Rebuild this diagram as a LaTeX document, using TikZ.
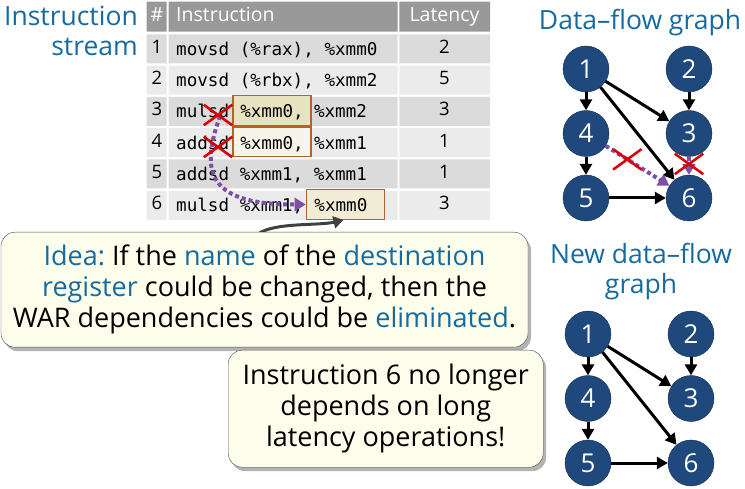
\documentclass[tikz,border=0pt]{standalone}
\usepackage{fontspec}
\setmainfont{Open Sans}
\setmonofont{DejaVu Sans Mono}
\usetikzlibrary{positioning,arrows.meta,shadows,shapes.misc}
\frenchspacing

\definecolor{titleblue}{RGB}{21,107,160}
\definecolor{nodeblue}{RGB}{31,73,125}
\definecolor{warpurple}{RGB}{125,80,165}
\definecolor{regline}{RGB}{181,98,42}
\definecolor{regfill}{RGB}{233,226,192}
\definecolor{calloutfill}{RGB}{253,253,236}
\definecolor{headgray}{RGB}{153,153,153}
\definecolor{rowdark}{RGB}{219,219,219}
\definecolor{rowlight}{RGB}{235,235,235}

\tikzset{
  title/.style = {text=titleblue, inner sep=0pt, font=\fontsize{26.5}{30}\selectfont},
  headtext/.style = {text=white, inner sep=0pt, font=\fontsize{19.5}{20}\selectfont},
  celltext/.style = {anchor=base, inner sep=0pt, font=\fontsize{18.5}{20}\selectfont},
  code/.style = {anchor=base west, inner sep=0pt, font=\ttfamily\fontsize{17.6}{20}\selectfont},
  regbox/.style = {code, draw=regline, line width=1.3pt, fill=regfill, inner xsep=7.3pt, inner ysep=3pt, text height=19.2pt, text depth=4.5pt},
  redx/.style = {draw=red!85!black, solid, cross out, line width=2.5pt, minimum width=26pt, minimum height=18pt, inner sep=0pt},
  war/.style = {warpurple, line width=4pt, dash pattern=on 4pt off 3pt, -{Triangle[length=11pt,width=13pt]}},
  hint/.style = {black!75, line width=3pt, -{Triangle[length=10pt,width=12pt]}},
  callout/.style = {draw=black!70, fill=calloutfill, rounded corners=14pt, align=center, anchor=north west,
    drop shadow={shadow xshift=3pt, shadow yshift=-4pt, opacity=0.6, fill=black!50}, font=\fontsize{27}{31}\selectfont},
  vertex/.style = {circle, draw=nodeblue!60!black, fill=nodeblue, minimum size=46pt, inner sep=0pt, text=white, font=\fontsize{26}{26}\selectfont},
  flow/.style = {line width=3pt, -{Triangle[length=11pt,width=12pt]}},
}

\begin{document}
\begin{tikzpicture}[x=1pt, y=-1pt, node distance={64.5pt and 103pt}, on grid]
\useasboundingbox (0,0) rectangle (745,489);

\node[title, anchor=base east, align=right] (stream) at (138,56) {Instruction\\stream};

% table
\fill[headgray] (146.7,1.7) rectangle (166.7,31.7) (168.7,1.7) rectangle (397.7,31.7) (399.3,1.7) rectangle (490,31.7);
\node[headtext, anchor=base] (hnum) at (157,21.7) {\#};
\node[headtext, anchor=base west] (hins) at (176,21.7) {Instruction};
\node[headtext, anchor=base] (hlat) at (444.5,21.7) {Latency};

\foreach \r/\lat in {1/2,2/5,3/3,4/1,5/1,6/3} {
  \pgfmathsetmacro\rowtop{34.3+(\r-1)*31.3}
  \ifodd\r \colorlet{rowfill}{rowdark}\else \colorlet{rowfill}{rowlight}\fi
  \fill[rowfill] (146.7,\rowtop) rectangle ++(20,29) (168.7,\rowtop) rectangle ++(229,29) (399.3,\rowtop) rectangle ++(90.7,29);
  \node[celltext] (num\r) at (157,\rowtop+19) {\r};
  \node[celltext] (lat\r) at (444.5,\rowtop+19) {\lat};
}

\node[code] (ins1) at (176,55.3) {movsd (\%rax), \%xmm0};
\node[code] (ins2) at (176,86.6) {movsd (\%rbx), \%xmm2};
\node[code] (op3) at (176,117.9) {mulsd};
\node[regbox] (b3) at (232.3,117.9) {\%xmm0,};
\node[code] (dst3) at (313.8,117.9) {\%xmm2};
\node[code] (op4) at (176,149.2) {addsd};
\node[regbox, fill=regfill!35!white] (b4) at (232.3,149.2) {\%xmm0,};
\node[code] (dst4) at (313.8,149.2) {\%xmm1};
\node[code] (ins5) at (176,180.5) {addsd \%xmm1, \%xmm1};
\node[code] (op6) at (176,211.8) {mulsd \%xmm1,};
\node[regbox, fill=regfill!65!white, text width=62pt, inner xsep=8.1pt] (b6) at (305.7,211.8) {\%xmm0};

% renaming
\coordinate (warstart) at (220,116);
\draw[war] (warstart) .. controls (203,165) and (200,205) .. (b6.west);
\node[redx] (x3) at (218,115) {};
\node[redx] (x4) at (218,147) {};

\coordinate (ideatop) at (258,234);
\draw[hint] (ideatop) .. controls (275,222) and (318,226) .. ([xshift=-2pt]b6.south);

\node[callout, minimum width=527pt, minimum height=115pt] (idea) at (0.8,232)
  {\textcolor{titleblue}{Idea:} If the \textcolor{titleblue}{name} of the \textcolor{titleblue}{destination}\\
   \textcolor{titleblue}{register} could be changed, then the\\
   WAR dependencies could be \textcolor{titleblue}{eliminated}.};
\node[callout, minimum width=315pt, minimum height=117pt] (longlat) at (228,350)
  {Instruction 6 no longer\\depends on long\\latency operations!};

% data-flow graph
\node[title, anchor=base] (dfg) at (640,30) {Data–flow graph};
\node[vertex] (n1) at (586,69) {1};
\node[vertex] (n2) [right=of n1] {2};
\node[vertex] (n4) [below=of n1] {4};
\node[vertex] (n3) [below=of n2] {3};
\node[vertex] (n5) [below=of n4] {5};
\node[vertex] (n6) [below=of n3] {6};

\draw[flow] (n1) -- (n4);
\draw[flow] (n4) -- (n5);
\draw[flow] (n2) -- (n3);
\draw[flow] (n1) -- (n3);
\draw[flow] (n1) -- (n6);
\draw[flow] (n5) -- (n6);
\draw[war] (n4) -- node[redx, pos=0.34] (xa) {} (n6);
\draw[war] (n3) -- node[redx, pos=0.4] (xb) {} (n6);

% new data-flow graph
\node[title, anchor=base, align=center] (ndfg) at (641,294) {New data–flow\\graph};
\node[vertex] (m1) at (588,334) {1};
\node[vertex] (m2) [right=of m1] {2};
\node[vertex] (m4) [below=of m1] {4};
\node[vertex] (m3) [below=of m2] {3};
\node[vertex] (m5) [below=of m4] {5};
\node[vertex] (m6) [below=of m3] {6};

\draw[flow] (m1) -- (m4);
\draw[flow] (m4) -- (m5);
\draw[flow] (m2) -- (m3);
\draw[flow] (m1) -- (m3);
\draw[flow] (m1) -- (m6);
\draw[flow] (m5) -- (m6);
\end{tikzpicture}
\end{document}
